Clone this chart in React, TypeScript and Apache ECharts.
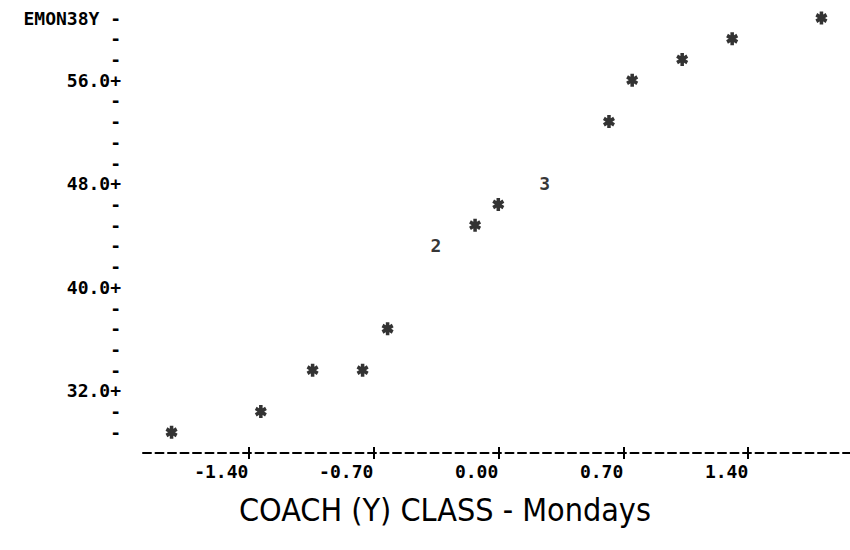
import React, { useEffect, useRef } from "react";
import * as echarts from "echarts";

// single-point observations (plotted as "*")
const starX = [-1.83, -1.33, -1.04, -0.76, -0.62, -0.13, 0.0, 0.62, 0.75, 1.03, 1.31, 1.81];
const starY = [28.8, 30.4, 33.6, 33.6, 36.8, 44.8, 46.4, 52.8, 56.0, 57.6, 59.2, 60.8];
// overlapping observations (plotted as counts)
const multiX = [-0.35, 0.26];
const multiY = [43.2, 48.0];
const multiN = [2, 3];
// axis ticks
const xTicks = [-1.4, -0.7, 0.0, 0.7, 1.4];
const yLabelName = "EMON38Y";
const titleText = "COACH (Y) CLASS - Mondays";

const INK = "#000";
const MONO = "'DejaVu Sans Mono', 'Liberation Mono', monospace";

const STAR_PATH =
  "path://M4.2,12 L7.8,12 L7.8,0 L4.2,0 Z " +
  "M10.296,10.559 L12.096,7.441 L1.704,1.441 L-0.096,4.559 Z " +
  "M-0.096,7.441 L1.704,10.559 L12.096,4.559 L10.296,1.441 Z";

export default function App() {
  const ref = useRef<HTMLDivElement>(null);
  useEffect(() => {
    if (!ref.current) return;
    const chart = echarts.init(ref.current, null, { renderer: "svg" });
    const yMin = 27.2;
    const yStep = 1.6;
    const labelFont = { fontFamily: MONO, fontSize: 18, fontWeight: "bold" as const, color: INK };
    chart.setOption({
      animation: false,
      backgroundColor: "#fff",
      title: {
        text: titleText,
        left: 234,
        top: 489,
        textStyle: {
          fontFamily: "'Liberation Sans Narrow', 'DejaVu Sans Condensed', sans-serif",
          fontSize: 32,
          fontWeight: "normal",
          color: INK,
        },
      },
      grid: { left: 143, right: 0, top: 18, bottom: 97, containLabel: false },
      xAxis: [
        {
          type: "value",
          min: -1.99,
          max: 1.97,
          position: "bottom",
          splitLine: { show: false },
          axisLine: { show: true, lineStyle: { color: INK, width: 2, type: [8, 4.5] } },
          axisTick: {
            show: true,
            customValues: xTicks,
            inside: false,
            length: 6,
            lineStyle: { color: INK, width: 2 },
          },
          axisLabel: {
            show: true,
            customValues: xTicks,
            formatter: (v: number) => v.toFixed(2),
            align: "right",
            margin: 9,
            ...labelFont,
          },
        },
        {
          type: "value",
          min: -1.99,
          max: 1.97,
          position: "bottom",
          splitLine: { show: false },
          axisLine: { show: false },
          axisTick: {
            show: true,
            customValues: xTicks,
            inside: true,
            length: 6,
            lineStyle: { color: INK, width: 2 },
          },
          axisLabel: { show: false },
        },
      ],
      yAxis: {
        type: "value",
        min: yMin,
        max: 60.8,
        interval: yStep,
        splitLine: { show: false },
        axisLine: { show: false },
        axisTick: { show: false },
        axisLabel: {
          margin: 22,
          ...labelFont,
          formatter: (v: number) => {
            const idx = Math.round((v - yMin) / yStep);
            if (idx === 0) return "";
            if (idx === 21) return yLabelName + " -";
            if ((idx - 3) % 5 === 0) return v.toFixed(1) + "+";
            return "-";
          },
        },
      },
      series: [
        {
          type: "scatter",
          xAxisIndex: 0,
          symbol: STAR_PATH,
          symbolSize: [12, 13],
          itemStyle: { color: INK },
          data: starX.map((x, i) => [x, starY[i]]),
        },
        {
          type: "scatter",
          xAxisIndex: 0,
          symbolSize: 0,
          itemStyle: { color: "transparent" },
          label: {
            show: true,
            position: "inside",
            formatter: (p: any) => String(p.value[2]),
            ...labelFont,
          },
          data: multiX.map((x, i) => [x, multiY[i], multiN[i]]),
        },
      ],
    });
    return () => chart.dispose();
  }, []);
  return (
    <div
      ref={ref}
      style={{ position: "absolute", left: 0, top: 0, width: 850, height: 550, background: "#fff" }}
    />
  );
}
